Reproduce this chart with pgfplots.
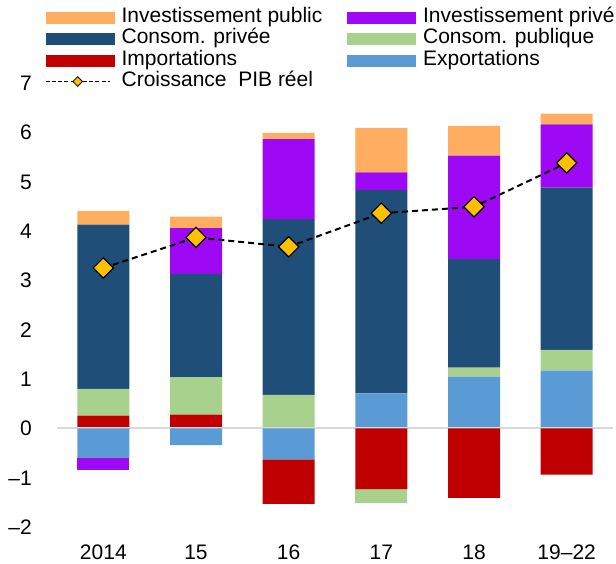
\documentclass[border=0pt]{standalone}
\usepackage{fontspec}
\setmainfont{Liberation Sans}
\usepackage{pgfplots}
\usepackage{pgfplotstable}
\pgfplotsset{compat=1.18}
\definecolor{cInvPub}{RGB}{255,173,96}
\definecolor{cInvPriv}{RGB}{158,9,245}
\definecolor{cCPriv}{RGB}{31,78,121}
\definecolor{cCPub}{RGB}{169,209,142}
\definecolor{cImp}{RGB}{192,0,0}
\definecolor{cExp}{RGB}{91,155,213}
\definecolor{cGold}{RGB}{255,192,0}
\definecolor{cZero}{RGB}{217,217,217}

% positive contributions
\pgfplotstableread{
x exp imp cpub cpriv invpriv invpub
0 0    0.26 0.54 3.33 0    0.28
1 0    0.28 0.76 2.09 0.93 0.23
2 0    0    0.68 3.56 1.62 0.13
3 0.71 0    0    4.12 0.36 0.90
4 1.05 0    0.18 2.20 2.10 0.60
5 1.17 0    0.42 3.29 1.28 0.22
}\pos
% negative contributions
\pgfplotstableread{
x exp imp cpub invpriv
0 -0.60  0     0     -0.25
1 -0.34  0     0      0
2 -0.63 -0.90  0      0
3  0    -1.23 -0.28   0
4  0    -1.41  0      0
5  0    -0.94  0      0
}\negt
% real GDP growth
\pgfplotstableread{
x gdp
0 3.25
1 3.87
2 3.68
3 4.36
4 4.49
5 5.38
}\gdp

\tikzset{
  gdpline/.style={black, line width=2pt, dash pattern=on 6pt off 4pt,
    mark=square*, mark size=7.2pt,
    mark options={rotate=45, solid, fill=cGold, draw=black, line width=1.2pt}},
}
\pgfplotsset{
  base/.style={
    scale only axis, width=556pt, height=444pt,
    at={(57pt,36pt)}, anchor=south west,
    xmin=-0.5, xmax=5.5, ymin=-2, ymax=7,
    axis line style={draw=none}, major tick length=0pt,
    font=\fontsize{21}{21}\selectfont,
    clip=false,
  },
}

\begin{document}
\begin{tikzpicture}
% positive stack
\begin{axis}[base, ybar stacked, bar width=52pt,
  xtick={0,...,5}, xticklabels={2014,15,16,17,18,19\textendash 22},
  ytick={-2,...,7},
  yticklabels={\textendash 2,\textendash 1,0,1,2,3,4,5,6,7},
  xticklabel style={inner sep=0pt, text height=15pt, text depth=0pt, anchor=north, yshift=-17pt},
  yticklabel style={inner sep=0pt, text height=15pt, text depth=0pt, anchor=east, xshift=-25pt},
]
  \addplot[fill=cExp, draw=none] table[x=x,y=exp]{\pos};
  \addplot[fill=cImp, draw=none] table[x=x,y=imp]{\pos};
  \addplot[fill=cCPub, draw=none] table[x=x,y=cpub]{\pos};
  \addplot[fill=cCPriv, draw=none] table[x=x,y=cpriv]{\pos};
  \addplot[fill=cInvPriv, draw=none] table[x=x,y=invpriv]{\pos};
  \addplot[fill=cInvPub, draw=none] table[x=x,y=invpub]{\pos};
\end{axis}
% negative stack
\begin{axis}[base, ybar stacked, bar width=52pt,
  xtick=\empty, ytick=\empty,
  extra y ticks={0}, extra y tick labels={},
  extra y tick style={grid=major, major grid style={cZero, line width=2pt}},
]
  \addplot[fill=cExp, draw=none] table[x=x,y=exp]{\negt};
  \addplot[fill=cImp, draw=none] table[x=x,y=imp]{\negt};
  \addplot[fill=cCPub, draw=none] table[x=x,y=cpub]{\negt};
  \addplot[fill=cInvPriv, draw=none] table[x=x,y=invpriv]{\negt};
\end{axis}
% GDP line + legend
\begin{axis}[base, xtick=\empty, ytick=\empty,
  legend columns=2, legend cell align=left,
  legend style={draw=none, fill=none, inner sep=0pt, outer sep=0pt,
    at={(-0.0216,1.1705)}, anchor=north west,
    font=\fontsize{21}{21}\selectfont,
    nodes={inner sep=0pt, text height=15.5pt, text depth=5.7pt},
    row sep=0pt,
    /tikz/every odd column/.append style={column sep=7.7pt},
    /tikz/every even column/.append style={column sep=24.6pt}},
]
  \addplot[gdpline, forget plot] table[x=x,y=gdp]{\gdp};
  \addlegendimage{legend image code/.code={\fill[cInvPub] (0pt,-5.5pt) rectangle (68pt,5.5pt);}}
  \addlegendentry{Investissement public}
  \addlegendimage{legend image code/.code={\fill[cInvPriv] (0pt,-5.5pt) rectangle (68pt,5.5pt);}}
  \addlegendentry{Investissement privé}
  \addlegendimage{legend image code/.code={\fill[cCPriv] (0pt,-5.5pt) rectangle (68pt,5.5pt);}}
  \addlegendentry{Consom. privée}
  \addlegendimage{legend image code/.code={\fill[cCPub] (0pt,-5.5pt) rectangle (68pt,5.5pt);}}
  \addlegendentry{Consom. publique}
  \addlegendimage{legend image code/.code={\fill[cImp] (0pt,-5.5pt) rectangle (68pt,5.5pt);}}
  \addlegendentry{Importations}
  \addlegendimage{legend image code/.code={\fill[cExp] (0pt,-5.5pt) rectangle (68pt,5.5pt);}}
  \addlegendentry{Exportations}
  \addlegendimage{legend image code/.code={\draw[black, line width=1.5pt, dash pattern=on 4pt off 2.2pt] (0pt,0pt) -- (64pt,0pt);
      \draw[black, mark=square*, mark size=3.4pt, mark options={rotate=45, solid, fill=cGold, draw=black, line width=0.8pt}] plot coordinates {(32pt,0pt)};}}
  \addlegendentry{Croissance\ \ PIB réel}
\end{axis}
\pgfresetboundingbox
\useasboundingbox (0,0) rectangle (616pt,563pt);
\end{tikzpicture}
\end{document}
